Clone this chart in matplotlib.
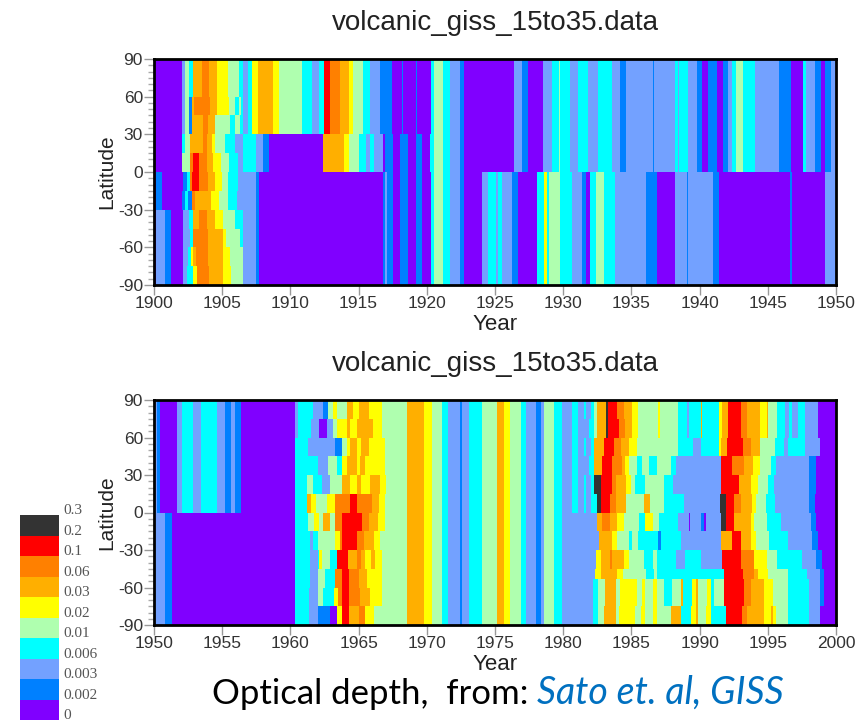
import matplotlib
matplotlib.use('Agg')
import matplotlib.pyplot as plt
from matplotlib.colors import ListedColormap, BoundaryNorm
from matplotlib.ticker import MultipleLocator
from matplotlib.transforms import ScaledTranslation

W, H = 867, 724

# optical depth classes, runs below are (end of run in years, class index)
depth_labels = ['0', '0.002', '0.003', '0.006', '0.01', '0.02', '0.03', '0.06', '0.1', '0.2', '0.3']
depth_colors = ['#8000ff', '#0080ff', '#73a1ff', '#00ffff', '#afffaf',
                '#ffff00', '#ffaf00', '#ff8000', '#ff0000', '#333333']
title = 'volcanic_giss_15to35.data'

band_lats = [90, 75, 60, 45, 30, 15, 0, -15, -30, -45, -60, -75, -90]
late_lats = [90, 75, 60, 45, 30, 15, 0, -15, -30, -45, -53, -75, -90]

# 1900-1906.55, years after 1900
top_head_lats = [90, 60, 45, 30, 15, 0, -15, -30, -45, -60, -75, -90]
top_head = [
    [(2.03, 0), (2.27, 2), (2.6, 4), (2.85, 3), (3.5, 6), (4.05, 7), (4.65, 6), (5.4, 5), (6.25, 4), (6.55, 3)],
    [(2.03, 0), (2.25, 2), (2.6, 4), (2.8, 1), (2.95, 6), (4.1, 7), (4.65, 6), (5.5, 5), (5.95, 4), (6.26, 3), (6.4, 4), (6.55, 3)],
    [(2.03, 0), (2.25, 2), (2.55, 4), (2.75, 1), (3.6, 6), (3.95, 7), (4.5, 6), (5.55, 4), (5.95, 3), (6.3, 4), (6.55, 3)],
    [(2.03, 0), (2.3, 3), (2.65, 4), (3.6, 6), (3.86, 7), (4.23, 6), (4.47, 5), (5.21, 4), (5.94, 3), (6.55, 2)],
    [(2.03, 0), (2.64, 4), (2.84, 7), (3.33, 8), (3.86, 7), (4.3, 6), (4.89, 5), (5.53, 4), (6.19, 3), (6.55, 2)],
    [(0.15, 0), (0.55, 1), (2.1, 0), (2.45, 1), (2.65, 3), (2.76, 7), (3.33, 8), (3.99, 7), (4.47, 6), (4.96, 5), (5.45, 4), (6.19, 3), (6.55, 2)],
    [(0.15, 0), (0.55, 1), (2.03, 0), (2.27, 1), (2.52, 3), (2.76, 1), (3.0, 7), (4.16, 6), (4.79, 5), (5.45, 4), (6.11, 3), (6.55, 2)],
    [(0.15, 0), (0.81, 2), (1.25, 1), (2.15, 0), (2.59, 2), (2.84, 3), (3.33, 6), (3.91, 7), (4.47, 6), (5.04, 5), (5.94, 4), (6.5, 3), (6.55, 2)],
    [(0.15, 0), (0.81, 2), (1.25, 1), (2.15, 0), (2.64, 2), (2.84, 3), (3.99, 7), (5.09, 6), (5.28, 5), (6.31, 4), (6.55, 3)],
    [(0.15, 0), (0.81, 2), (1.25, 1), (2.15, 0), (2.52, 2), (2.69, 3), (2.89, 5), (3.08, 6), (3.99, 7), (5.04, 6), (5.57, 5), (6.55, 4)],
    [(0.15, 0), (0.81, 2), (1.25, 1), (2.15, 0), (2.45, 2), (2.89, 3), (3.13, 5), (4.06, 7), (5.09, 6), (5.67, 5), (6.55, 4)],
]

top_upper = [(6.9, 2), (7.2, 3), (7.6, 5), (8.75, 6), (9.2, 5), (10.85, 4), (11.6, 3), (12.13, 2), (12.45, 3),
             (12.9, 8), (13.6, 7), (14.3, 6), (14.6, 5), (15.35, 4), (15.8, 3), (16.55, 2), (17.45, 1), (18.15, 0),
             (18.27, 1), (19.2, 0), (19.3, 1), (20.3, 0), (20.5, 3), (21.2, 4), (21.7, 3), (22.45, 2), (22.7, 1), (26.4, 0)]
top_mid = [(7.46, 3), (8.0, 2), (8.45, 1), (12.4, 0), (13.9, 6), (14.3, 5), (15.05, 4), (15.55, 3), (15.8, 2),
           (16.1, 3), (16.8, 2), (16.9, 0), (17.55, 1), (18.05, 0), (18.6, 1), (19.2, 0), (19.65, 1), (20.2, 0),
           (20.5, 3), (21.2, 4), (21.7, 3), (22.45, 2), (22.7, 1), (26.4, 0)]
top_north_tail = [(27.0, 2), (27.4, 1), (28.5, 0), (29.2, 2), (29.7, 3), (29.8, 4), (30.5, 3), (31.1, 2), (31.8, 3),
                  (32.55, 2), (33.6, 3), (34.2, 2), (34.6, 1), (36.55, 2), (36.65, 1), (38.2, 2), (38.4, 3), (38.5, 2),
                  (39.15, 3), (39.8, 2), (40.2, 1), (40.6, 0), (41.25, 1), (41.7, 0), (42.1, 1), (42.4, 2), (42.7, 3),
                  (43.15, 4), (44.05, 3), (45.8, 2), (46.7, 1), (47.55, 0), (47.8, 3), (48.45, 2), (48.9, 1), (49.2, 0),
                  (49.6, 1), (50.0, 2)]
top_south = [(7.5, 2), (7.7, 1), (16.8, 0), (16.95, 1), (17.1, 2), (17.55, 1), (18.05, 0), (18.6, 1), (19.2, 0),
             (19.65, 1), (20.3, 0), (20.5, 3), (21.2, 4), (21.7, 3), (22.45, 2), (22.7, 1), (24.05, 0), (24.5, 2),
             (25.05, 3), (25.2, 2), (25.5, 3), (26.25, 2), (26.7, 1), (28.05, 0), (28.6, 3), (28.8, 5), (28.95, 3),
             (29.75, 4), (30.65, 3), (31.4, 2), (31.7, 1), (32.0, 0), (32.4, 3), (33.0, 4), (33.8, 3), (36.1, 2),
             (36.85, 1), (38.2, 0), (39.05, 2), (39.15, 1), (40.95, 2), (41.4, 1), (46.6, 0), (46.75, 1), (49.2, 0), (50.0, 2)]

# 1950-1960.34, years after 1950
bottom_north_early = [(0.2, 2), (0.44, 1), (1.71, 0), (2.03, 2), (2.89, 3), (3.45, 2), (4.65, 3), (5.21, 2),
                      (5.65, 1), (5.97, 2), (6.41, 1), (10.34, 0)]
bottom_south_early = [(0.81, 2), (1.3, 1), (10.34, 0)]

# Agung, 1960.34-1968.53, years after 1950
bottom_agung = [
    [(10.59, 2), (11.69, 3), (12.42, 2), (12.79, 1), (13.15, 4), (13.45, 5), (14.13, 4), (14.62, 6), (15.06, 5), (15.79, 6), (16.7, 5), (18.53, 4)],
    [(10.59, 2), (11.5, 3), (12.13, 2), (12.67, 0), (13.15, 2), (13.45, 4), (14.13, 5), (14.38, 6), (14.87, 5), (16.09, 6), (16.7, 5), (18.53, 4)],
    [(11.3, 3), (13.3, 2), (13.77, 1), (14.13, 4), (14.38, 5), (14.87, 6), (15.2, 5), (15.79, 6), (16.94, 5), (18.53, 4)],
    [(12.05, 3), (12.79, 2), (13.45, 4), (13.77, 3), (14.13, 5), (14.87, 6), (15.1, 5), (15.5, 6), (16.94, 5), (18.53, 4)],
    [(11.2, 3), (11.69, 4), (12.3, 3), (12.9, 2), (13.77, 4), (14.38, 6), (14.87, 5), (15.2, 6), (15.8, 5), (16.6, 6), (17.0, 5), (18.53, 4)],
    [(11.2, 3), (11.5, 6), (11.9, 5), (12.7, 4), (13.3, 5), (14.4, 7), (14.87, 8), (16.0, 7), (16.5, 6), (16.94, 5), (18.53, 4)],
    [(11.32, 3), (11.7, 4), (12.13, 5), (12.4, 4), (12.91, 6), (13.3, 4), (13.77, 7), (15.23, 8), (15.79, 7), (16.4, 6), (16.94, 5), (18.53, 4)],
    [(11.44, 3), (11.69, 2), (12.05, 3), (13.28, 4), (13.6, 5), (13.8, 7), (14.87, 8), (15.4, 7), (16.1, 6), (16.6, 5), (18.53, 4)],
    [(11.44, 3), (12.05, 2), (12.13, 3), (12.33, 5), (12.91, 4), (13.4, 3), (14.2, 8), (14.87, 6), (15.2, 7), (15.5, 6), (15.9, 5), (16.2, 6), (16.7, 5), (18.53, 4)],
    [(11.44, 3), (12.05, 2), (12.55, 4), (13.28, 3), (13.77, 7), (14.26, 8), (15.0, 7), (15.6, 6), (16.7, 5), (18.53, 4)],
    [(11.4, 3), (12.05, 2), (12.4, 4), (13.2, 3), (13.5, 5), (13.77, 7), (14.26, 8), (15.1, 7), (15.85, 6), (16.7, 5), (18.53, 4)],
    [(11.4, 3), (12.0, 2), (12.9, 1), (13.4, 0), (13.77, 5), (14.32, 8), (15.0, 6), (15.5, 7), (16.1, 5), (18.53, 4)],
]

# quiet years, the same at all latitudes, years after 1950
bottom_quiet = [(19.76, 6), (20.37, 5), (21.1, 4), (21.52, 3), (22.4, 2), (22.57, 1), (23.13, 2), (24.03, 3),
                (25.17, 4), (25.66, 6), (26.1, 5), (26.9, 4), (27.3, 3), (28.03, 2), (28.35, 1), (28.6, 2),
                (29.35, 4), (29.94, 3)]

# El Chichon and Pinatubo, 1979.94-2000, years after 1900
bottom_late = [
    [(80.67, 2), (81.11, 3), (81.53, 2), (81.7, 3), (82.02, 2), (82.26, 3), (82.46, 4), (83.12, 6), (83.29, 9), (83.92, 8), (84.46, 7), (85.07, 6), (85.49, 5), (86.96, 4), (87.08, 5), (88.42, 4), (89.06, 3), (89.23, 2), (90.09, 3), (90.18, 6), (91.43, 3), (91.67, 5), (92.09, 6), (93.02, 8), (93.44, 7), (94.44, 6), (94.93, 5), (95.02, 6), (95.66, 4), (96.25, 3), (96.57, 2), (96.81, 3), (97.22, 2), (97.71, 3), (98.7, 2), (100.0, 0)],
    [(80.67, 2), (81.11, 3), (81.9, 2), (82.26, 3), (82.46, 4), (83.12, 6), (83.29, 9), (84.1, 8), (84.5, 7), (85.07, 6), (85.49, 5), (86.96, 4), (87.08, 5), (88.42, 4), (89.06, 3), (89.23, 2), (90.09, 3), (90.18, 6), (91.43, 3), (91.67, 5), (92.09, 6), (93.02, 8), (93.44, 7), (94.44, 6), (94.93, 5), (95.02, 6), (95.66, 4), (96.25, 3), (96.57, 2), (96.81, 3), (97.22, 2), (97.71, 3), (98.7, 2), (100.0, 0)],
    [(80.67, 2), (81.11, 3), (81.53, 2), (81.7, 3), (82.02, 2), (82.26, 3), (83.0, 6), (83.75, 8), (84.22, 7), (84.83, 6), (85.42, 5), (88.42, 4), (89.55, 3), (90.1, 2), (91.43, 3), (91.55, 5), (92.0, 6), (93.15, 8), (93.75, 7), (94.44, 6), (95.5, 4), (96.2, 3), (96.5, 2), (97.7, 3), (98.8, 2), (100.0, 0)],
    [(80.67, 2), (81.11, 3), (81.9, 2), (82.26, 3), (82.85, 6), (83.6, 8), (84.3, 7), (84.55, 6), (84.8, 5), (85.4, 4), (85.8, 3), (86.3, 4), (86.9, 3), (87.9, 4), (88.3, 3), (91.55, 2), (92.4, 8), (93.25, 7), (93.9, 6), (94.4, 5), (95.25, 4), (95.6, 3), (98.03, 2), (98.5, 1), (100.0, 0)],
    [(80.67, 2), (81.11, 3), (81.53, 2), (81.7, 3), (82.02, 2), (82.26, 3), (82.8, 9), (83.55, 8), (83.9, 7), (84.63, 6), (85.0, 5), (85.25, 4), (86.0, 3), (87.4, 4), (88.08, 3), (91.55, 2), (92.9, 8), (93.75, 6), (94.25, 5), (95.02, 4), (95.44, 3), (98.03, 2), (98.5, 1), (100.0, 0)],
    [(80.67, 2), (81.11, 3), (81.53, 2), (81.7, 3), (82.02, 2), (82.45, 3), (82.8, 9), (83.45, 8), (83.85, 7), (84.63, 6), (85.93, 4), (86.4, 6), (87.4, 4), (88.85, 3), (91.5, 2), (91.9, 9), (92.55, 8), (93.0, 7), (93.85, 6), (94.1, 5), (94.85, 4), (95.55, 3), (98.03, 2), (98.45, 1), (100.0, 0)],
    [(82.5, 2), (82.85, 6), (83.4, 7), (83.95, 6), (84.45, 5), (85.55, 4), (86.0, 3), (86.55, 5), (87.05, 4), (88.4, 3), (89.2, 2), (89.3, 0), (90.1, 2), (90.3, 1), (90.45, 0), (91.55, 2), (91.95, 9), (92.55, 8), (93.75, 6), (94.0, 5), (94.95, 4), (96.0, 3), (98.15, 2), (98.5, 1), (100.0, 0)],
    [(82.6, 2), (83.6, 6), (83.95, 5), (84.85, 4), (85.05, 3), (85.45, 4), (86.95, 3), (87.15, 1), (88.6, 3), (91.55, 2), (92.4, 6), (93.05, 8), (93.75, 6), (94.1, 5), (95.1, 4), (96.45, 3), (98.25, 2), (98.65, 1), (100.0, 0)],
    [(82.4, 2), (82.75, 5), (83.4, 6), (83.6, 7), (84.45, 6), (84.8, 5), (85.95, 4), (86.55, 3), (86.9, 4), (88.3, 3), (88.9, 2), (90.1, 3), (91.65, 2), (93.0, 8), (94.0, 7), (94.95, 5), (95.7, 4), (97.5, 3), (98.5, 2), (99.0, 1), (100.0, 0)],
    [(82.35, 2), (82.75, 5), (83.95, 6), (84.35, 5), (86.05, 4), (86.65, 3), (86.9, 4), (91.8, 3), (93.15, 8), (94.0, 7), (94.25, 6), (95.0, 5), (96.45, 4), (97.9, 3), (98.8, 2), (99.15, 1), (100.0, 0)],
    [(82.2, 2), (82.55, 3), (83.05, 4), (83.9, 6), (84.15, 4), (85.4, 5), (85.75, 4), (86.0, 5), (86.6, 4), (86.85, 5), (87.4, 4), (88.0, 3), (88.6, 4), (88.75, 6), (89.45, 3), (89.7, 5), (89.85, 6), (90.55, 4), (90.8, 5), (91.05, 3), (91.8, 4), (93.25, 8), (93.75, 7), (94.7, 6), (95.4, 5), (96.5, 4), (98.0, 3), (98.8, 2), (99.15, 1), (100.0, 0)],
    [(82.2, 2), (82.55, 3), (83.0, 4), (83.85, 6), (84.1, 4), (85.3, 5), (85.7, 4), (86.0, 5), (86.6, 4), (86.85, 5), (87.9, 4), (88.65, 6), (89.4, 3), (89.7, 5), (89.85, 6), (90.5, 4), (90.8, 5), (91.9, 3), (93.1, 8), (93.44, 7), (94.7, 6), (95.2, 5), (95.4, 6), (95.6, 5), (96.5, 4), (98.03, 3), (98.85, 2), (100.0, 0)],
]

cmap = ListedColormap(depth_colors)
norm = BoundaryNorm(range(len(depth_colors) + 1), cmap.N)


def draw_band(ax, base, start, runs, lat_hi, lat_lo):
    edges = [base + start] + [base + r[0] for r in runs]
    codes = [[r[1] + 0.5 for r in runs]]
    ax.pcolormesh(edges, [lat_lo, lat_hi], codes, cmap=cmap, norm=norm, linewidth=0)


def draw_bands(ax, base, start, rows, lats):
    for i, runs in enumerate(rows):
        draw_band(ax, base, start, runs, lats[i], lats[i + 1])


def make_axes(y_top, y_bot, x0, x1):
    ax = fig.add_axes([154 / W, 1 - y_bot / H, (836 - 154) / W, (y_bot - y_top) / H])
    ax.set_xlim(x0, x1)
    ax.set_ylim(-90, 90)
    ax.set_xticks(range(x0, x1 + 1, 5))
    ax.set_yticks(range(-90, 91, 30))
    ax.yaxis.set_minor_locator(MultipleLocator(5))
    ax.tick_params(which='major', length=7, width=1, color='#999999', labelcolor='#333333', labelsize=12.5, pad=1)
    ax.tick_params(which='minor', axis='y', length=4, width=1, color='#aaaaaa')
    for s in ax.spines.values():
        s.set_linewidth(2)
        s.set_zorder(5)
    ax.set_xlabel('Year', fontsize=16, color='#222222')
    ax.set_ylabel('Latitude', fontsize=15, color='#222222')
    ax.xaxis.set_label_coords(0.5, -0.13)
    ax.yaxis.set_label_coords(-0.056, 0.5)
    ax.set_title(title, fontsize=20, color='#222222', pad=21)
    return ax


plt.rcParams['font.family'] = ['Liberation Sans', 'DejaVu Sans']
plt.rcParams['axes.unicode_minus'] = False
fig = plt.figure(figsize=(W / 100, H / 100), dpi=100)

# upper panel
ax1 = make_axes(59, 285, 1900, 1950)
draw_bands(ax1, 1900, 0, top_head, top_head_lats)
draw_band(ax1, 1900, 6.55, top_upper, 90, 30)
draw_band(ax1, 1900, 6.55, top_mid, 30, 0)
draw_band(ax1, 1900, 26.4, top_north_tail, 90, 0)
draw_band(ax1, 1900, 6.55, top_south, 0, -90)

# lower panel
ax2 = make_axes(400, 625, 1950, 2000)
draw_band(ax2, 1950, 0, bottom_north_early, 90, 0)
draw_band(ax2, 1950, 0, bottom_south_early, 0, -90)
draw_bands(ax2, 1950, 10.34, bottom_agung, band_lats)
draw_band(ax2, 1950, 18.53, bottom_quiet, 90, -90)
draw_bands(ax2, 1900, 79.94, bottom_late, late_lats)

# colour key
cax = fig.add_axes([20 / W, 1 - 720 / H, 39 / W, 205 / H])
n = len(depth_colors)
cax.pcolormesh([0, 1], range(n + 1), [[i + 0.5] for i in range(n)], cmap=cmap, norm=norm)
cax.set_xticks([])
cax.set_yticks(range(n + 1))
cax.set_yticklabels(depth_labels, family='Liberation Serif', fontsize=11, color='#555555')
cax.yaxis.tick_right()
cax.tick_params(axis='y', length=0, pad=3)
lift = ScaledTranslation(0, 4 / 72, fig.dpi_scale_trans)
for lab in cax.get_yticklabels():
    lab.set_transform(lab.get_transform() + lift)
for s in cax.spines.values():
    s.set_visible(False)

# caption
fig.text(212 / W, 1 - 704 / H, 'Optical depth,  from: ', family='Lato', fontsize=25, color='black')
fig.text(537 / W, 1 - 704 / H, 'Sato et. al, GISS', family='Lato', style='italic', fontsize=27, color='#0070c0')

fig.savefig('out.png', dpi=100)
